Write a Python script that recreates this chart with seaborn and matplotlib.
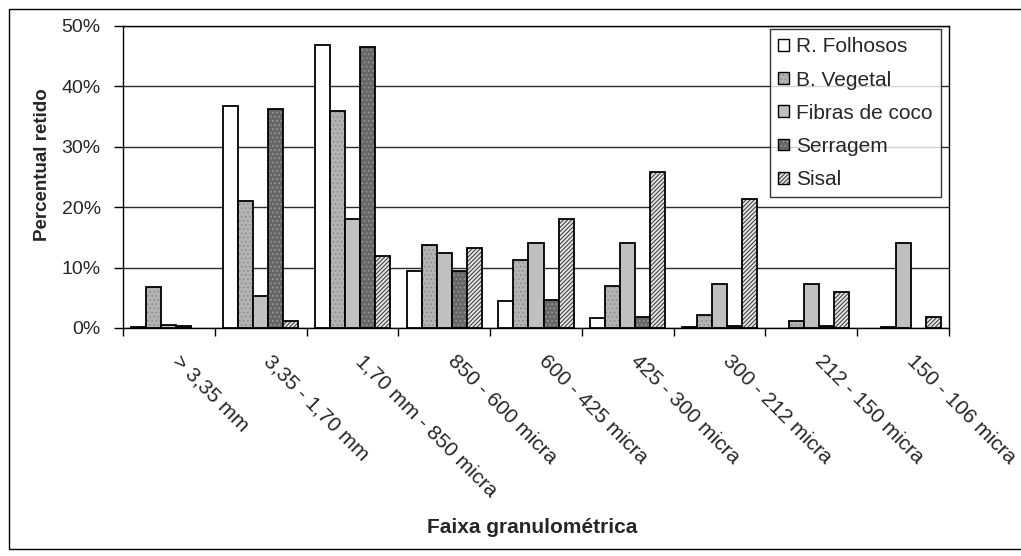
import matplotlib
matplotlib.use("Agg")
import matplotlib.pyplot as plt
import matplotlib.colors as mcolors
import matplotlib.patches as mpatches
import matplotlib.transforms as mtransforms
from matplotlib.ticker import FixedLocator, PercentFormatter
import seaborn as sns
import pandas as pd

categories = [
    "> 3,35 mm", "3,35 - 1,70 mm", "1,70 mm - 850 micra", "850 - 600 micra",
    "600 - 425 micra", "425 - 300 micra", "300 - 212 micra", "212 - 150 micra",
    "150 - 106 micra",
]
series = ["R. Folhosos", "B. Vegetal", "Fibras de coco", "Serragem", "Sisal"]

r_folhosos = [0.2, 36.8, 46.8, 9.5, 4.5, 1.6, 0.2, 0.0, 0.0]
b_vegetal = [6.8, 21.1, 36.0, 13.8, 11.3, 7.0, 2.2, 1.1, 0.2]
fibras_coco = [0.5, 5.3, 18.1, 12.4, 14.1, 14.1, 7.3, 7.3, 14.0]
serragem = [0.3, 36.2, 46.5, 9.5, 4.7, 1.9, 0.3, 0.3, 0.0]
sisal = [0.0, 1.1, 12.0, 13.3, 18.1, 25.9, 21.4, 6.0, 1.9]

values = [r_folhosos, b_vegetal, fibras_coco, serragem, sisal]

# bar styling per series: face colour, hatch, hatch colour
face_colors = ["#ffffff", "#b4b4b4", "#c0c0c0", "#666666", "#e4e4e4"]
hatches = [None, "....", None, "....", "////////"]
hatch_colors = ["#000000", "#8c8c8c", "#000000", "#999999", "#333333"]

df = pd.DataFrame(
    [(cat, s, v) for s, vals in zip(series, values) for cat, v in zip(categories, vals)],
    columns=["faixa", "material", "pct"],
)

sns.set_style("white")
plt.rcParams["font.family"] = ["Liberation Sans", "DejaVu Sans"]
plt.rcParams["hatch.linewidth"] = 0.7

fig = plt.figure(figsize=(10.21, 5.56), dpi=100)
ax = fig.add_axes([123 / 1021, 1 - 328 / 556, 826 / 1021, 302 / 556])

sns.barplot(
    data=df, x="faixa", y="pct", hue="material", order=categories,
    hue_order=series, palette=face_colors, edgecolor="black", linewidth=1.3,
    width=0.82, gap=0, saturation=1, legend=False, ax=ax, errorbar=None,
)

for cont, h, hc in zip(ax.containers, hatches, hatch_colors):
    for p in cont.patches:
        if h:
            p.set_hatch(h)
        p._hatch_color = mcolors.to_rgba(hc)
        p.set_zorder(3)
        if p.get_height() == 0:
            p.set_visible(False)

ax.set_ylim(0, 50)
ax.set_xlim(-0.5, len(categories) - 0.5)
ax.yaxis.set_major_locator(FixedLocator([0, 10, 20, 30, 40, 50]))
ax.yaxis.set_major_formatter(PercentFormatter(decimals=0))
ax.grid(axis="y", color="#2a2a2a", linewidth=1.0, zorder=0)
ax.set_axisbelow(True)
for sp in ax.spines.values():
    sp.set_visible(True)
    sp.set_color("black")
    sp.set_linewidth(1.0)

ax.tick_params(axis="y", direction="out", length=6.5, width=1, color="black",
               labelsize=14, pad=9.5, left=True)
ax.set_xticks(range(len(categories)))
ax.set_xticklabels(categories, rotation=-45, ha="left", va="top",
                   rotation_mode="anchor", fontsize=15)
ax.tick_params(axis="x", which="major", length=0, pad=17)
shift = mtransforms.ScaledTranslation(13 / 100, 0, fig.dpi_scale_trans)
for lbl in ax.get_xticklabels():
    lbl.set_transform(lbl.get_transform() + shift)
ax.set_xticks([i - 0.5 for i in range(len(categories) + 1)], minor=True)
ax.tick_params(axis="x", which="minor", direction="out", length=6, width=1,
               color="black", bottom=True)

ax.set_xlabel("Faixa granulométrica", fontsize=15, fontweight="bold")
ax.set_ylabel("Percentual retido", fontsize=13.5, fontweight="bold")
ax.xaxis.set_label_coords(0.495, -0.628)
ax.yaxis.set_label_coords(-0.087, 0.54)

handles = []
for s, fc, h, hc in zip(series, face_colors, hatches, hatch_colors):
    patch = mpatches.Patch(facecolor=fc, edgecolor="black", linewidth=1.0,
                           hatch=h, label=s)
    patch._hatch_color = mcolors.to_rgba(hc)
    handles.append(patch)

leg = ax.legend(
    handles=handles, loc="upper right", bbox_to_anchor=(0.99, 0.99),
    borderaxespad=0, frameon=True, fancybox=False, edgecolor="black",
    fontsize=15, handlelength=0.5, handleheight=0.5, handletextpad=0.35,
    labelspacing=0.68, borderpad=0.4,
)
leg.get_frame().set_linewidth(1.0)
leg.set_zorder(5)

# chart-area frame
fig.add_artist(mpatches.Rectangle(
    (9 / 1021, 1 - 549 / 556), 1.2, 540 / 556, transform=fig.transFigure,
    fill=False, edgecolor="black", linewidth=1.0,
))

fig.savefig("out.png", dpi=100, facecolor="white")
